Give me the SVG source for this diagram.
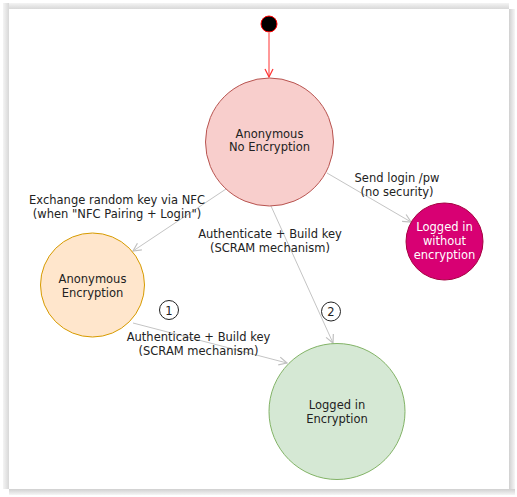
<svg xmlns="http://www.w3.org/2000/svg" width="517" height="497" viewBox="0 0 517 497">
<defs>
<linearGradient id="gT" x1="0" y1="0" x2="0" y2="1"><stop offset="0" stop-color="#f4f4f4"/><stop offset="1" stop-color="#d8d8d8"/></linearGradient>
<linearGradient id="gL" x1="0" y1="0" x2="1" y2="0"><stop offset="0" stop-color="#f4f4f4"/><stop offset="1" stop-color="#d8d8d8"/></linearGradient>
<linearGradient id="gR" x1="0" y1="0" x2="1" y2="0"><stop offset="0" stop-color="#d0d0d0"/><stop offset="1" stop-color="#f6f6f6"/></linearGradient>
<linearGradient id="gB" x1="0" y1="0" x2="0" y2="1"><stop offset="0" stop-color="#d0d0d0"/><stop offset="1" stop-color="#f6f6f6"/></linearGradient>
<marker id="arr" viewBox="0 0 10 10" refX="9" refY="5" markerWidth="10" markerHeight="10" markerUnits="userSpaceOnUse" orient="auto">
<path d="M1,1 L9,5 L1,9" fill="none" stroke="#c0c0c0" stroke-width="1.2"/>
</marker>
<marker id="arrR" viewBox="0 0 10 10" refX="9" refY="5" markerWidth="10" markerHeight="10" markerUnits="userSpaceOnUse" orient="auto">
<path d="M1,1 L9,5 L1,9" fill="none" stroke="#ff3333" stroke-width="1.2"/>
</marker>
</defs>
<style>
text{font-family:"DejaVu Sans",Verdana,sans-serif;font-size:11.5px;fill:#222;text-anchor:middle}
.edge{stroke:#c4c4c4;stroke-width:1;fill:none;marker-end:url(#arr)}
.num{fill:#fff;stroke:#222;stroke-width:1}
.w{fill:#fff}
</style>
<rect width="517" height="497" fill="#fff"/>
<g id="frame">
<rect x="3" y="3" width="506" height="6" fill="url(#gT)"/>
<rect x="3" y="3" width="6" height="486" fill="url(#gL)"/>
<rect x="509" y="9" width="6" height="486" fill="url(#gR)"/>
<rect x="9" y="489" width="506" height="6" fill="url(#gB)"/>
</g>
<g id="connectors">
<line x1="269" y1="33" x2="269" y2="77" stroke="#ff3333" stroke-width="1" marker-end="url(#arrR)"/>
<line class="edge" x1="226" y1="189" x2="133" y2="251"/>
<line class="edge" x1="327" y1="173" x2="411" y2="222"/>
<line class="edge" x1="271" y1="206" x2="333" y2="343"/>
<line class="edge" x1="133" y1="323" x2="287" y2="363"/>
</g>
<g id="labels">
<text x="117" y="204">Exchange random key via NFC</text>
<text x="117" y="217.5">(when "NFC Pairing + Login")</text>
<text x="397" y="182">Send login /pw</text>
<text x="397" y="196">(no security)</text>
<text x="270" y="238">Authenticate + Build key</text>
<text x="270" y="252">(SCRAM mechanism)</text>
<text x="198.5" y="341">Authenticate + Build key</text>
<text x="198.5" y="355">(SCRAM mechanism)</text>
<g id="badge1"><circle class="num" cx="169" cy="310" r="9.5"/><text x="169" y="314.5">1</text></g>
<g id="badge2"><circle class="num" cx="331" cy="311.5" r="9.5"/><text x="331" y="316">2</text></g>
</g>
<g id="start"><circle cx="269" cy="24" r="8" fill="#000" stroke="#ff0000" stroke-width="1"/></g>
<g id="anon-noenc">
<circle cx="269.5" cy="142" r="64" fill="#f8cecc" stroke="#b85450" stroke-width="1"/>
<text x="269.5" y="138">Anonymous</text>
<text x="269.5" y="151">No Encryption</text>
</g>
<g id="anon-enc">
<circle cx="92.5" cy="285" r="52" fill="#ffe6cc" stroke="#d79b00" stroke-width="1"/>
<text x="92.5" y="283">Anonymous</text>
<text x="92.5" y="297">Encryption</text>
</g>
<g id="logged-noenc">
<circle cx="444.5" cy="241.5" r="38.5" fill="#d80073" stroke="#a50040" stroke-width="1"/>
<text class="w" x="444.5" y="231">Logged in</text>
<text class="w" x="444.5" y="245">without</text>
<text class="w" x="444.5" y="259">encryption</text>
</g>
<g id="logged-enc">
<circle cx="337" cy="411.5" r="68" fill="#d5e8d4" stroke="#82b366" stroke-width="1"/>
<text x="337" y="409">Logged in</text>
<text x="337" y="423">Encryption</text>
</g>
</svg>
